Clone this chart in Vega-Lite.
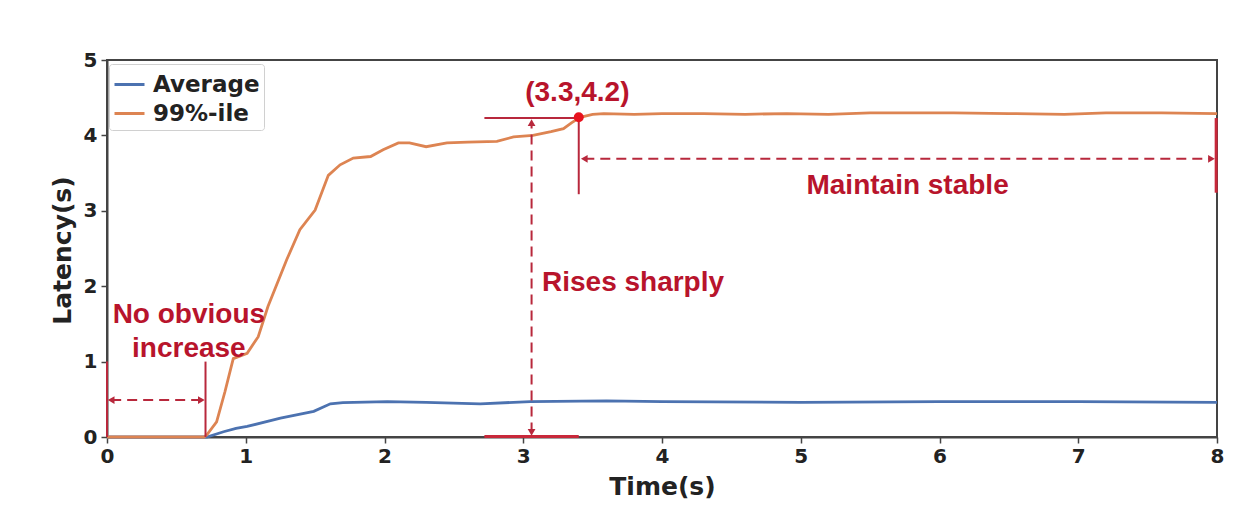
{
  "$schema": "https://vega.github.io/schema/vega-lite/v6.json",
  "width": 1110,
  "height": 377,
  "autosize": {"type": "none"},
  "padding": {"left": 107, "top": 60, "right": 23, "bottom": 83},
  "background": "white",
  "config": {
    "view": {"stroke": "#444", "strokeWidth": 2},
    "axis": {
      "grid": false,
      "zindex": 0,
      "domainColor": "#444",
      "domainWidth": 2,
      "tickColor": "#444",
      "tickWidth": 1.5,
      "tickSize": 6,
      "labelFlush": false,
      "format": "d",
      "labelFont": "DejaVu Sans",
      "labelFontWeight": "bold",
      "labelFontSize": 20,
      "labelColor": "#222",
      "titleFont": "DejaVu Sans",
      "titleFontWeight": "bold",
      "titleFontSize": 25,
      "titleColor": "#222"
    },
    "legend": {
      "orient": "none",
      "legendX": 2,
      "legendY": 4,
      "strokeColor": "#d0d0d0",
      "fillColor": "white",
      "padding": 4,
      "cornerRadius": 3,
      "labelFont": "DejaVu Sans",
      "labelFontWeight": "bold",
      "labelFontSize": 23,
      "labelColor": "#222",
      "labelOffset": 7,
      "symbolType": "stroke",
      "symbolStrokeWidth": 3,
      "symbolSize": 900,
      "rowPadding": -2
    }
  },
  "datasets": {
    "series": [
      {"t": 0, "v": 0, "s": "Average"},
      {"t": 0.72, "v": 0, "s": "Average"},
      {"t": 0.84, "v": 0.07, "s": "Average"},
      {"t": 0.93, "v": 0.115, "s": "Average"},
      {"t": 1.01, "v": 0.14, "s": "Average"},
      {"t": 1.25, "v": 0.25, "s": "Average"},
      {"t": 1.49, "v": 0.34, "s": "Average"},
      {"t": 1.61, "v": 0.44, "s": "Average"},
      {"t": 1.7, "v": 0.455, "s": "Average"},
      {"t": 2.02, "v": 0.47, "s": "Average"},
      {"t": 2.3, "v": 0.46, "s": "Average"},
      {"t": 2.69, "v": 0.44, "s": "Average"},
      {"t": 3.05, "v": 0.47, "s": "Average"},
      {"t": 3.6, "v": 0.48, "s": "Average"},
      {"t": 4.0, "v": 0.47, "s": "Average"},
      {"t": 5.0, "v": 0.46, "s": "Average"},
      {"t": 6.0, "v": 0.47, "s": "Average"},
      {"t": 7.0, "v": 0.47, "s": "Average"},
      {"t": 8.0, "v": 0.46, "s": "Average"},
      {"t": 0, "v": 0, "s": "99%-ile"},
      {"t": 0.7, "v": 0, "s": "99%-ile"},
      {"t": 0.72, "v": 0.03, "s": "99%-ile"},
      {"t": 0.79, "v": 0.2, "s": "99%-ile"},
      {"t": 0.85, "v": 0.6, "s": "99%-ile"},
      {"t": 0.91, "v": 1.04, "s": "99%-ile"},
      {"t": 1.01, "v": 1.11, "s": "99%-ile"},
      {"t": 1.09, "v": 1.33, "s": "99%-ile"},
      {"t": 1.16, "v": 1.73, "s": "99%-ile"},
      {"t": 1.295, "v": 2.35, "s": "99%-ile"},
      {"t": 1.39, "v": 2.75, "s": "99%-ile"},
      {"t": 1.5, "v": 3.01, "s": "99%-ile"},
      {"t": 1.595, "v": 3.47, "s": "99%-ile"},
      {"t": 1.68, "v": 3.61, "s": "99%-ile"},
      {"t": 1.775, "v": 3.7, "s": "99%-ile"},
      {"t": 1.9, "v": 3.72, "s": "99%-ile"},
      {"t": 1.99, "v": 3.81, "s": "99%-ile"},
      {"t": 2.1, "v": 3.9, "s": "99%-ile"},
      {"t": 2.18, "v": 3.9, "s": "99%-ile"},
      {"t": 2.3, "v": 3.85, "s": "99%-ile"},
      {"t": 2.45, "v": 3.9, "s": "99%-ile"},
      {"t": 2.6, "v": 3.91, "s": "99%-ile"},
      {"t": 2.81, "v": 3.92, "s": "99%-ile"},
      {"t": 2.93, "v": 3.98, "s": "99%-ile"},
      {"t": 3.07, "v": 4.0, "s": "99%-ile"},
      {"t": 3.2, "v": 4.05, "s": "99%-ile"},
      {"t": 3.29, "v": 4.09, "s": "99%-ile"},
      {"t": 3.35, "v": 4.17, "s": "99%-ile"},
      {"t": 3.41, "v": 4.24, "s": "99%-ile"},
      {"t": 3.5, "v": 4.28, "s": "99%-ile"},
      {"t": 3.58, "v": 4.29, "s": "99%-ile"},
      {"t": 3.8, "v": 4.28, "s": "99%-ile"},
      {"t": 4.0, "v": 4.29, "s": "99%-ile"},
      {"t": 4.3, "v": 4.29, "s": "99%-ile"},
      {"t": 4.6, "v": 4.28, "s": "99%-ile"},
      {"t": 4.9, "v": 4.29, "s": "99%-ile"},
      {"t": 5.2, "v": 4.28, "s": "99%-ile"},
      {"t": 5.5, "v": 4.3, "s": "99%-ile"},
      {"t": 5.8, "v": 4.3, "s": "99%-ile"},
      {"t": 6.1, "v": 4.3, "s": "99%-ile"},
      {"t": 6.5, "v": 4.29, "s": "99%-ile"},
      {"t": 6.9, "v": 4.28, "s": "99%-ile"},
      {"t": 7.2, "v": 4.3, "s": "99%-ile"},
      {"t": 7.6, "v": 4.3, "s": "99%-ile"},
      {"t": 8.0, "v": 4.29, "s": "99%-ile"}
    ],
    "solidSegs": [
      {"x": 0, "x2": 0, "y": 0, "y2": 1.0},
      {"x": 0.71, "x2": 0.71, "y": 0, "y2": 1.0},
      {"x": 2.72, "x2": 3.4, "y": 4.23, "y2": 4.23},
      {"x": 3.4, "x2": 3.4, "y": 4.23, "y2": 3.22}
    ],
    "edgeSegs": [
      {"x": 2.72, "x2": 3.4, "y": 0.005, "y2": 0.005},
      {"x": 7.994, "x2": 7.994, "y": 4.23, "y2": 3.24}
    ],
    "dashSegs": [
      {"x": 0.03, "x2": 0.68, "y": 0.49, "y2": 0.49},
      {"x": 3.06, "x2": 3.06, "y": 0.06, "y2": 4.17},
      {"x": 3.44, "x2": 7.96, "y": 3.69, "y2": 3.69}
    ],
    "arrows": [
      {"x": 0.03, "y": 0.49, "shape": "triangle-left"},
      {"x": 0.68, "y": 0.49, "shape": "triangle-right"},
      {"x": 3.06, "y": 4.17, "shape": "triangle-up"},
      {"x": 3.06, "y": 0.06, "shape": "triangle-down"},
      {"x": 3.44, "y": 3.69, "shape": "triangle-left"},
      {"x": 7.96, "y": 3.69, "shape": "triangle-right"}
    ],
    "marker": [{"x": 3.4, "y": 4.24}],
    "centerText": [
      {"x": 0.59, "y": 1.62, "label": ["No obvious", "increase"]},
      {"x": 5.77, "y": 3.33, "label": ["Maintain stable"]},
      {"x": 3.39, "y": 4.56, "label": ["(3.3,4.2)"]}
    ],
    "leftText": [
      {"x": 3.135, "y": 2.04, "label": ["Rises sharply"]}
    ]
  },
  "layer": [
    {
      "data": {"name": "series"},
      "mark": {"type": "line", "strokeWidth": 2.8},
      "encoding": {
        "x": {
          "field": "t", "type": "quantitative",
          "scale": {"domain": [0, 8], "nice": false},
          "axis": {"values": [0, 1, 2, 3, 4, 5, 6, 7, 8], "title": "Time(s)", "labelPadding": 3, "titleY": 49, "titleBaseline": "middle"}
        },
        "y": {
          "field": "v", "type": "quantitative",
          "scale": {"domain": [0, 5], "nice": false},
          "axis": {"values": [0, 1, 2, 3, 4, 5], "title": "Latency(s)", "labelPadding": 4, "titleX": -45, "titleY": 190, "titleAngle": -90, "titleBaseline": "middle", "titleAlign": "center"}
        },
        "color": {
          "field": "s", "type": "nominal",
          "scale": {"domain": ["Average", "99%-ile"], "range": ["#4C72B0", "#DD8452"]},
          "legend": {"title": null}
        },
        "detail": {"field": "s"}
      }
    },
    {
      "data": {"name": "solidSegs"},
      "mark": {"type": "rule", "color": "#b8283c", "strokeWidth": 2},
      "encoding": {
        "x": {"field": "x", "type": "quantitative"},
        "x2": {"field": "x2"},
        "y": {"field": "y", "type": "quantitative"},
        "y2": {"field": "y2"}
      }
    },
    {
      "data": {"name": "edgeSegs"},
      "mark": {"type": "rule", "color": "#c8283a", "strokeWidth": 3},
      "encoding": {
        "x": {"field": "x", "type": "quantitative"},
        "x2": {"field": "x2"},
        "y": {"field": "y", "type": "quantitative"},
        "y2": {"field": "y2"}
      }
    },
    {
      "data": {"name": "dashSegs"},
      "mark": {"type": "rule", "color": "#b8283c", "strokeWidth": 2, "strokeDash": [10, 6]},
      "encoding": {
        "x": {"field": "x", "type": "quantitative"},
        "x2": {"field": "x2"},
        "y": {"field": "y", "type": "quantitative"},
        "y2": {"field": "y2"}
      }
    },
    {
      "data": {"name": "arrows"},
      "mark": {"type": "point", "filled": true, "color": "#b8283c", "size": 60, "opacity": 1},
      "encoding": {
        "x": {"field": "x", "type": "quantitative"},
        "y": {"field": "y", "type": "quantitative"},
        "shape": {"field": "shape", "type": "nominal", "scale": null}
      }
    },
    {
      "data": {"name": "marker"},
      "mark": {"type": "point", "filled": true, "color": "#e8121e", "size": 100, "opacity": 1, "shape": "circle"},
      "encoding": {
        "x": {"field": "x", "type": "quantitative"},
        "y": {"field": "y", "type": "quantitative"}
      }
    },
    {
      "data": {"name": "centerText"},
      "mark": {"type": "text", "align": "center", "baseline": "middle", "font": "Liberation Sans", "fontWeight": "bold", "fontSize": 28, "lineHeight": 34, "color": "#b8142c"},
      "encoding": {
        "x": {"field": "x", "type": "quantitative"},
        "y": {"field": "y", "type": "quantitative"},
        "text": {"field": "label"}
      }
    },
    {
      "data": {"name": "leftText"},
      "mark": {"type": "text", "align": "left", "baseline": "middle", "font": "Liberation Sans", "fontWeight": "bold", "fontSize": 28, "color": "#b8142c"},
      "encoding": {
        "x": {"field": "x", "type": "quantitative"},
        "y": {"field": "y", "type": "quantitative"},
        "text": {"field": "label"}
      }
    }
  ]
}
